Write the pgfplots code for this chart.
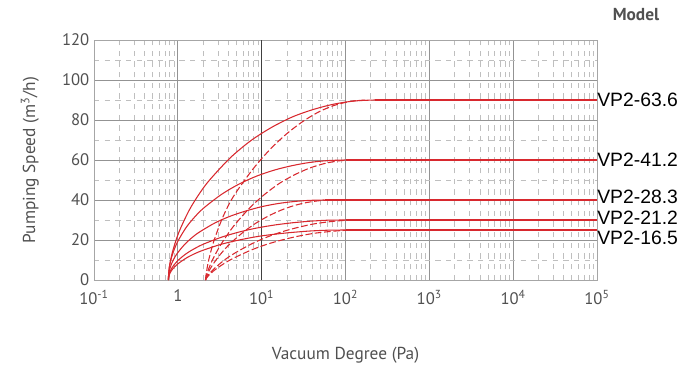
\documentclass[border=0pt]{standalone}
\usepackage{pgfplots}
\pgfplotsset{compat=1.18}
\usepackage{fontspec}
\setmainfont{PT Sans}
\newfontfamily\arialf{Liberation Sans}
\definecolor{curvered}{HTML}{D8282E}
\definecolor{txtgray}{HTML}{505050}
\begin{document}
\begin{tikzpicture}
\begin{axis}[
  name=ax, at={(0,0)}, anchor=south west,
  scale only axis, width=377.25pt, height=180pt,
  xmode=log, xmin=0.1, xmax=1e5, ymin=0, ymax=120,
  xtick={0.1,1,10,100,1000,10000,100000},
  xticklabels={10\textsuperscript{-1},1,10\textsuperscript{1},10\textsuperscript{2},10\textsuperscript{3},10\textsuperscript{4},10\textsuperscript{5}},
  minor xtick={0.2,0.3,0.4,0.5,0.6,0.7,0.8,0.9,2,3,4,5,6,7,8,9,20,30,40,50,60,70,80,90,200,300,400,500,600,700,800,900,2000,3000,4000,5000,6000,7000,8000,9000,20000,30000,40000,50000,60000,70000,80000,90000},
  ytick={0,20,40,60,80,100,120},
  minor ytick={10,30,50,70,90,110},
  grid=both,
  major grid style={gray!85, line width=0.6pt},
  minor grid style={gray!50, line width=0.45pt, dash pattern=on 4pt off 4pt},
  axis line style={gray!70, line width=0.6pt},
  major tick length=0pt, minor tick length=0pt,
  tick label style={font=\fontsize{12.5}{14}\selectfont, text=txtgray},
  xticklabel style={yshift=-4pt},
  /pgf/number format/assume math mode=true,
  clip=false,
  every axis plot/.append style={curvered, line width=0.8pt, smooth, mark=none},
]
\draw[gray!50!black, line width=0.9pt] (axis cs:10,0) -- (axis cs:10,120);
% VP2-63.6
\addplot[] coordinates {(0.770,0) (0.792,6.4) (0.863,14.0) (1.023,23.6) (1.358,34.7) (1.803,43.1) (2.394,50.0) (4.223,61.1) (7.443,69.7) (13.13,76.3) (23.15,81.5) (40.83,85.2) (72.0,87.9) (127.0,89.5) (223.9,90)};
\addplot[sharp plot] coordinates {(223.9,90) (1e5,90)};
\addplot[dash pattern=on 5pt off 2pt] coordinates {(2.138,0) (2.186,3.5) (2.335,10.0) (2.667,19.0) (3.327,30.0) (4.150,38.5) (5.176,45.0) (8.054,56.0) (12.53,65.2) (19.50,72.8) (30.34,79.0) (47.21,83.9) (73.45,87.3) (114.3,89.3) (177.8,90)};
% VP2-41.2
\addplot[] coordinates {(0.770,0) (0.789,6.0) (0.849,11.9) (0.982,18.7) (1.253,26.2) (1.597,31.6) (2.038,36.0) (3.316,42.8) (5.395,48.0) (8.777,52.0) (14.28,55.0) (23.23,57.2) (37.79,58.8) (61.48,59.7) (100,60)};
\addplot[sharp plot] coordinates {(100,60) (1e5,60)};
\addplot[dash pattern=on 5pt off 2pt] coordinates {(2.138,0) (2.182,1.9) (2.319,5.3) (2.621,10.5) (3.214,17.3) (3.940,22.9) (4.831,27.9) (7.261,36.2) (10.91,42.9) (16.41,48.4) (24.66,52.6) (37.07,55.9) (55.72,58.2) (83.75,59.6) (125.9,60)};
% VP2-28.3
\addplot[] coordinates {(0.770,0) (0.787,4.0) (0.839,8.0) (0.954,12.5) (1.183,17.4) (1.466,21.1) (1.816,24.0) (2.790,28.6) (4.283,32.0) (6.580,34.6) (10.11,36.7) (15.52,38.2) (23.84,39.2) (36.62,39.8) (56.23,40)};
\addplot[sharp plot] coordinates {(56.23,40) (1e5,40)};
\addplot[dash pattern=on 5pt off 2pt] coordinates {(2.138,0) (2.176,1.3) (2.293,3.6) (2.547,7.0) (3.034,11.5) (3.614,15.3) (4.305,18.6) (6.109,24.1) (8.670,28.6) (12.30,32.2) (17.46,35.1) (24.77,37.3) (35.16,38.8) (49.89,39.7) (70.79,40)};
% VP2-21.2
\addplot[] coordinates {(0.770,0) (0.789,3.0) (0.849,6.0) (0.982,9.4) (1.253,13.1) (1.597,15.8) (2.038,18.0) (3.316,21.4) (5.395,24.0) (8.777,26.0) (14.28,27.5) (23.23,28.6) (37.79,29.4) (61.48,29.9) (100,30)};
\addplot[sharp plot] coordinates {(100,30) (1e5,30)};
\addplot[dash pattern=on 5pt off 2pt] coordinates {(2.138,0) (2.184,0.9) (2.326,2.7) (2.642,5.2) (3.266,8.6) (4.036,11.5) (4.989,13.9) (7.621,18.1) (11.64,21.5) (17.78,24.2) (27.16,26.3) (41.50,28.0) (63.39,29.1) (96.83,29.8) (147.9,30)};
% VP2-16.5
\addplot[] coordinates {(0.770,0) (0.789,2.5) (0.849,5.0) (0.982,7.8) (1.253,10.9) (1.597,13.2) (2.038,15.0) (3.316,17.9) (5.395,20.0) (8.777,21.7) (14.28,22.9) (23.23,23.8) (37.79,24.5) (61.48,24.9) (100,25)};
\addplot[sharp plot] coordinates {(100,25) (1e5,25)};
\addplot[dash pattern=on 5pt off 2pt] coordinates {(2.138,0) (2.184,0.8) (2.326,2.2) (2.642,4.4) (3.266,7.2) (4.036,9.6) (4.989,11.6) (7.621,15.1) (11.64,17.9) (17.78,20.1) (27.16,21.9) (41.50,23.3) (63.39,24.2) (96.83,24.8) (147.9,25)};
% labels
\begin{scope}[every node/.style={anchor=west, inner sep=0pt, font=\arialf\fontsize{14.5}{16}\selectfont}]
\node at (axis cs:1e5,90) {VP2-63.6};
\node at (axis cs:1e5,60) {VP2-41.2};
\node at (axis cs:1e5,41.5) {VP2-28.3};
\node at (axis cs:1e5,31) {VP2-21.2};
\node at (axis cs:1e5,21) {VP2-16.5};
\end{scope}
\end{axis}
\node[rotate=90, text=txtgray, font=\fontsize{13}{15}\selectfont] at (-48pt,90pt) {Pumping Speed (m\textsuperscript{3}/h)};
\node[text=txtgray, font=\fontsize{13}{15}\selectfont] at (188.6pt,-56.25pt) {Vacuum Degree (Pa)};
\node[text=txtgray, font=\bfseries\fontsize{13}{15}\selectfont] at (406.5pt,198.75pt) {Model};
\path[use as bounding box] (-70.5pt,-64.5pt) rectangle (442.5pt,210pt);
\end{tikzpicture}
\end{document}
